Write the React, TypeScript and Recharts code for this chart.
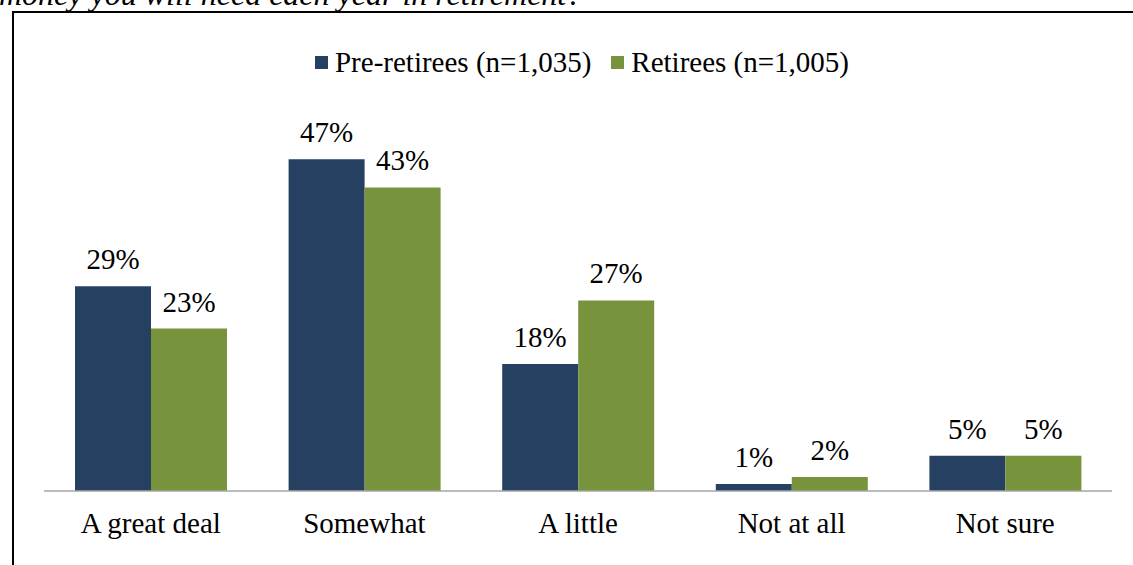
import { BarChart, Bar, XAxis, YAxis, Legend, LabelList } from 'recharts';

const categories = ['A great deal', 'Somewhat', 'A little', 'Not at all', 'Not sure'];
const preRetirees = [29, 47, 18, 1, 5];
const retirees = [23, 43, 27, 2, 5];
const seriesNames = ['Pre-retirees (n=1,035)', 'Retirees (n=1,005)'];
const seriesColors = ['#264061', '#77933C'];

const data = categories.map((name, i) => ({
  name,
  pre: preRetirees[i],
  ret: retirees[i],
}));

const FONT = '"Liberation Serif", "Times New Roman", serif';

const ChartLegend = () => (
  <div
    style={{
      display: 'flex',
      justifyContent: 'center',
      alignItems: 'center',
      fontFamily: FONT,
      fontSize: 29,
      color: '#000',
      lineHeight: '32px',
    }}
  >
    {seriesNames.map((n, i) => (
      <div key={n} style={{ display: 'flex', alignItems: 'center', marginRight: i === 0 ? 20 : 0 }}>
        <span style={{ width: 13, height: 13, background: seriesColors[i], marginRight: 7, display: 'inline-block' }} />
        <span>{n}</span>
      </div>
    ))}
  </div>
);

export default function App() {
  return (
    <div style={{ position: 'fixed', left: 0, top: 0, width: 1133, height: 565, background: '#fff', overflow: 'hidden' }}>
      <div
        style={{
          position: 'absolute',
          left: -1,
          top: -22,
          fontFamily: FONT,
          fontStyle: 'italic',
          fontSize: 32,
          lineHeight: 1,
          whiteSpace: 'nowrap',
          color: '#000',
        }}
      >
        money you will need each year in retirement?
      </div>
      <div
        style={{
          position: 'absolute',
          left: 12,
          top: 11,
          width: 1200,
          height: 600,
          border: '2px solid #000',
          boxSizing: 'border-box',
        }}
      />
      <div style={{ position: 'absolute', left: 0, top: 0 }}>
        <BarChart
          width={1133}
          height={565}
          data={data}
          margin={{ top: 138, right: 21, bottom: 0, left: 44 }}
          barCategoryGap={31}
          barGap={0}
        >
          <XAxis
            dataKey="name"
            height={74}
            tickLine={false}
            tickSize={0}
            tickMargin={21}
            axisLine={{ stroke: '#A6A6A6', strokeWidth: 1.5 }}
            tick={{ fill: '#000', fontSize: 29, fontFamily: FONT }}
            interval={0}
          />
          <YAxis hide domain={[0, 50]} />
          <Legend
            verticalAlign="middle"
            align="center"
            content={<ChartLegend />}
            wrapperStyle={{ top: 46, left: 48, width: 1068 }}
          />
          <Bar dataKey="pre" name={seriesNames[0]} fill={seriesColors[0]} isAnimationActive={false}>
            <LabelList
              dataKey="pre"
              position="top"
              offset={17}
              formatter={(v: any) => `${v}%`}
              style={{ fill: '#000', fontSize: 29, fontFamily: FONT }}
            />
          </Bar>
          <Bar dataKey="ret" name={seriesNames[1]} fill={seriesColors[1]} isAnimationActive={false}>
            <LabelList
              dataKey="ret"
              position="top"
              offset={17}
              formatter={(v: any) => `${v}%`}
              style={{ fill: '#000', fontSize: 29, fontFamily: FONT }}
            />
          </Bar>
        </BarChart>
      </div>
    </div>
  );
}
